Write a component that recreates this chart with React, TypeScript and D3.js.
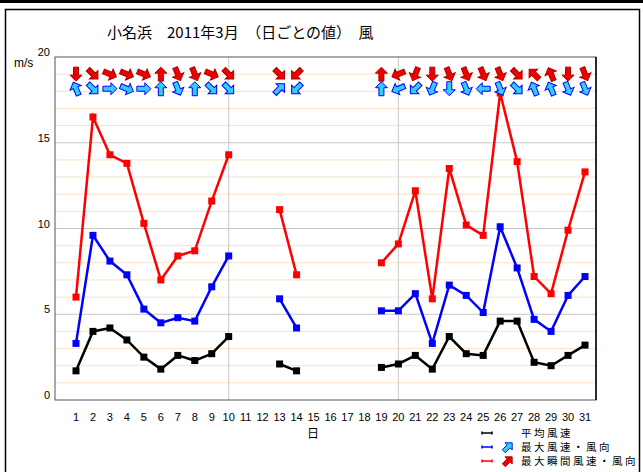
import React from "react";
import * as d3 from "d3";

const days = d3.range(1, 32);
const avgSpeed: (number | null)[] = [1.7, 4.0, 4.2, 3.5, 2.5, 1.8, 2.6, 2.3, 2.7, 3.7, null, null, 2.1, 1.7, null, null, null, null, 1.9, 2.1, 2.6, 1.8, 3.7, 2.7, 2.6, 4.6, 4.6, 2.2, 2.0, 2.6, 3.2];
const maxSpeed: (number | null)[] = [3.3, 9.6, 8.1, 7.3, 5.3, 4.5, 4.8, 4.6, 6.6, 8.4, null, null, 5.9, 4.2, null, null, null, null, 5.2, 5.2, 6.2, 3.3, 6.7, 6.1, 5.1, 10.1, 7.7, 4.7, 4.0, 6.1, 7.2];
const gustSpeed: (number | null)[] = [6.0, 16.5, 14.3, 13.8, 10.3, 7.0, 8.4, 8.7, 11.6, 14.3, null, null, 11.1, 7.3, null, null, null, null, 8.0, 9.1, 12.2, 5.9, 13.5, 10.2, 9.6, 17.9, 13.9, 7.2, 6.2, 9.9, 13.3];
const maxDir: (string | null)[] = ["南南東", "北西", "西", "西北西", "西", "南", "北北西", "南", "北西", "北西", null, null, "南西", "北東", null, null, null, null, "南", "東北東", "北東", "北北東", "北", "北北西", "東", "北北西", "北西", "南南東", "南南東", "北北西", "北北西"];
const gustDir: (string | null)[] = ["北", "北西", "西北西", "西北西", "西北西", "南", "北北西", "北北西", "西北西", "北西", null, null, "北西", "北東", null, null, null, null, "南", "東北東", "北北東", "北", "北北西", "北北西", "北北西", "北北西", "北西", "南東", "南南東", "北", "北北西"];
const compass = ["北", "北北東", "北東", "東北東", "東", "東南東", "南東", "南南東", "南", "南南西", "南西", "西南西", "西", "西北西", "北西", "北北西"];
const yTicks = [0, 5, 10, 15, 20];
const title = "小名浜　2011年3月　（日ごとの値）　風";
const legendLabels = ["平均風速", "最大風速・風向", "最大瞬間風速・風向"];

const W = 643, H = 472;
const x = d3.scaleLinear().domain([1, 31]).range([76, 585]);
const y = d3.scaleLinear().domain([0, 20]).range([400, 57]);
const plotL = 55, plotR = 596;

const arrowPath = "M0,-7 L6,-1 L2.5,-1 L2.5,7 L-2.5,7 L-2.5,-1 L-6,-1 Z";

function Arrow({ cx, cy, rot, fill, stroke, s = 1 }: { cx: number; cy: number; rot: number; fill: string; stroke: string; s?: number }) {
  return <path d={arrowPath} transform={`translate(${cx},${cy}) rotate(${rot}) scale(${s})`} fill={fill} stroke={stroke} strokeWidth={1} strokeLinejoin="miter" />;
}

function Series({ data, color }: { data: (number | null)[]; color: string }) {
  const line = d3.line<number | null>()
    .defined((d) => d !== null)
    .x((_, i) => x(days[i]))
    .y((d) => y(d as number));
  return (
    <g>
      <path d={line(data) || ""} fill="none" stroke={color} strokeWidth={2.5} />
      {data.map((d, i) => d === null ? null : (
        <rect key={i} x={x(days[i]) - 3.5} y={y(d) - 3.5} width={7} height={7} fill={color} />
      ))}
    </g>
  );
}

export default function App() {
  const minor = d3.range(1, 20).filter((v) => v % 5 !== 0);
  const dirRot = (d: string) => compass.indexOf(d) * 22.5 + 180;
  return (
    <svg width={W} height={H} style={{ position: "absolute", left: 0, top: 0, background: "#fff" }} fontFamily="'Liberation Sans', Arial, sans-serif">
      <rect x={0} y={0} width={W} height={3} fill="#000" />
      <rect x={5.5} y={9.5} width={634} height={470} fill="none" stroke="#000" strokeWidth={1.5} />
      <text x={107} y={38} fontSize={15} fontFamily="'Noto Sans CJK JP', sans-serif" fill="#000">{title}</text>

      {minor.map((v) => (
        <line key={v} x1={plotL} x2={plotR} y1={y(v)} y2={y(v)} stroke="#f7e3c3" strokeWidth={1} />
      ))}
      {[5, 10, 15].map((v) => (
        <line key={v} x1={plotL} x2={plotR} y1={y(v)} y2={y(v)} stroke="#c8c8c8" strokeWidth={1} />
      ))}
      {[10, 20].map((d) => (
        <line key={d} x1={x(d)} x2={x(d)} y1={y(20)} y2={y(0)} stroke="#c8c8c8" strokeWidth={1} />
      ))}
      <rect x={plotL} y={y(20)} width={plotR - plotL} height={y(0) - y(20)} fill="none" stroke="#555" strokeWidth={1} />
      <line x1={plotR} x2={plotR} y1={y(20)} y2={y(0)} stroke="#000" strokeWidth={1.5} />

      {yTicks.map((v) => (
        <text key={v} x={50} y={y(v) - 1} fontSize={11} textAnchor="end" fill="#000">{v}</text>
      ))}
      <text x={14} y={67} fontSize={12} fill="#000">m/s</text>

      {days.map((d) => (
        <text key={d} x={x(d)} y={421} fontSize={11} textAnchor="middle" fill="#000">{d}</text>
      ))}
      <text x={313} y={438} fontSize={12} textAnchor="middle" fontFamily="'Noto Sans CJK JP', sans-serif" fill="#000">日</text>

      <Series data={avgSpeed} color="#000000" />
      <Series data={maxSpeed} color="#0000ff" />
      <Series data={gustSpeed} color="#ff0000" />

      {gustDir.map((d, i) => d === null ? null : (
        <Arrow key={"g" + i} cx={x(days[i])} cy={y(19)} rot={dirRot(d)} fill="#ee0000" stroke="#aa0000" />
      ))}
      {maxDir.map((d, i) => d === null ? null : (
        <Arrow key={"m" + i} cx={x(days[i])} cy={y(18.15)} rot={dirRot(d)} fill="#33ccff" stroke="#0000ff" />
      ))}

      {legendLabels.map((lab, i) => {
        const ly = 433 + i * 14;
        const col = ["#000000", "#0000ff", "#ff0000"][i];
        return (
          <g key={i}>
            <line x1={482} x2={492} y1={ly} y2={ly} stroke={col} strokeWidth={1.5} />
            <line x1={482} x2={482} y1={ly - 1.5} y2={ly + 1.5} stroke={col} strokeWidth={1.5} />
            <line x1={492} x2={492} y1={ly - 1.5} y2={ly + 1.5} stroke={col} strokeWidth={1.5} />
            {i === 1 && <Arrow cx={508} cy={ly} rot={45} s={0.85} fill="#33ccff" stroke="#0000ff" />}
            {i === 2 && <Arrow cx={508} cy={ly} rot={45} s={0.85} fill="#ee0000" stroke="#aa0000" />}
            <text x={521} y={ly + 4} fontSize={10.5} letterSpacing={2.5} fontFamily="'Noto Sans CJK JP', sans-serif" fill="#000">{lab}</text>
          </g>
        );
      })}
    </svg>
  );
}
